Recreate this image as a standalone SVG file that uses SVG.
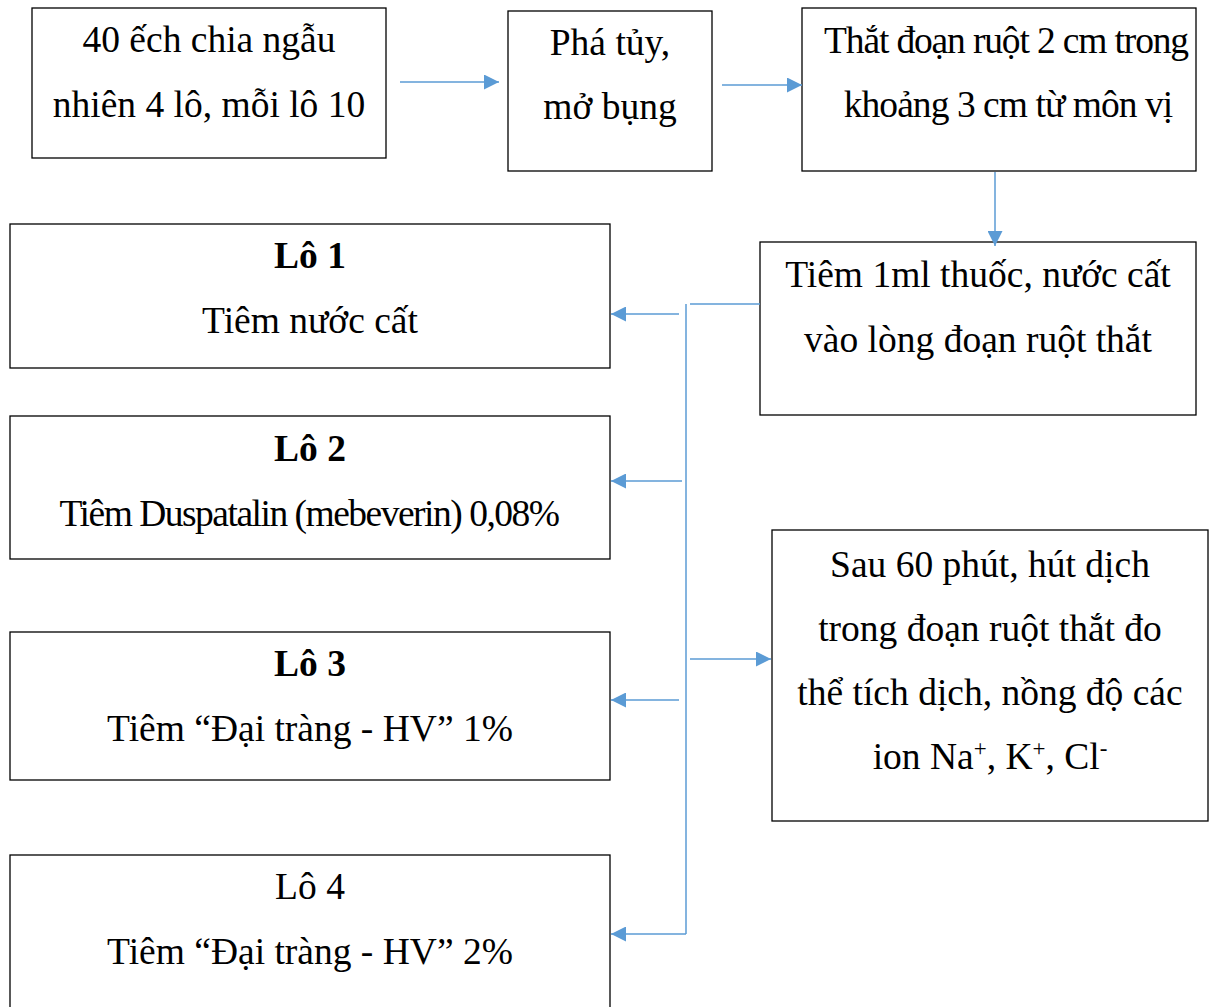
<svg xmlns="http://www.w3.org/2000/svg" width="1211" height="1007" viewBox="0 0 1211 1007">
  <style>
    .box { fill: #ffffff; stroke: #000000; stroke-width: 1.3; }
    .t { font-family: "Liberation Serif", "Times New Roman", serif; font-size: 37.5px; fill: #000000; text-anchor: middle; }
    .b { font-weight: bold; }
    .sup { font-size: 23px; }
    .con { fill: none; stroke: #5b9bd5; stroke-width: 1.5; }
  </style>
  <defs>
    <marker id="arrow" viewBox="0 0 10 10" refX="10" refY="5" markerWidth="15" markerHeight="15" markerUnits="userSpaceOnUse" orient="auto">
      <path d="M0,0 L10,5 L0,10 z" fill="#5b9bd5"/>
    </marker>
  </defs>
  <rect width="1211" height="1007" fill="#ffffff"/>

  <g id="n-start">
    <rect class="box" x="32" y="8" width="354" height="150"/>
    <text class="t" x="209" y="52">40 ếch chia ngẫu</text>
    <text class="t" x="209" y="117">nhiên 4 lô, mỗi lô 10</text>
  </g>

  <g id="n-open">
    <rect class="box" x="508" y="11" width="204" height="160"/>
    <text class="t" x="610" y="55">Phá tủy,</text>
    <text class="t" x="610" y="119">mở bụng</text>
  </g>

  <g id="n-tie">
    <rect class="box" x="802" y="8" width="394" height="163"/>
    <text class="t" x="1006" y="53" letter-spacing="-1.15">Thắt đoạn ruột 2 cm trong</text>
    <text class="t" x="1008" y="117" letter-spacing="-0.95">khoảng 3 cm từ môn vị</text>
  </g>

  <g id="n-inject">
    <rect class="box" x="760" y="242" width="436" height="173"/>
    <text class="t" x="978" y="287">Tiêm 1ml thuốc, nước cất</text>
    <text class="t" x="978" y="352">vào lòng đoạn ruột thắt</text>
  </g>

  <g id="n-lo1">
    <rect class="box" x="10" y="224" width="600" height="144"/>
    <text class="t b" x="310" y="268">Lô 1</text>
    <text class="t" x="310" y="333">Tiêm nước cất</text>
  </g>

  <g id="n-lo2">
    <rect class="box" x="10" y="416" width="600" height="143"/>
    <text class="t b" x="310" y="461">Lô 2</text>
    <text class="t" x="309" y="526" letter-spacing="-1.5">Tiêm Duspatalin (mebeverin) 0,08%</text>
  </g>

  <g id="n-lo3">
    <rect class="box" x="10" y="632" width="600" height="148"/>
    <text class="t b" x="310" y="676">Lô 3</text>
    <text class="t" x="310" y="741">Tiêm “Đại tràng - HV” 1%</text>
  </g>

  <g id="n-lo4">
    <rect class="box" x="10" y="855" width="600" height="170"/>
    <text class="t" x="310" y="899">Lô 4</text>
    <text class="t" x="310" y="964">Tiêm “Đại tràng - HV” 2%</text>
  </g>

  <g id="n-measure">
    <rect class="box" x="772" y="530" width="436" height="291"/>
    <text class="t" x="990" y="577">Sau 60 phút, hút dịch</text>
    <text class="t" x="990" y="641">trong đoạn ruột thắt đo</text>
    <text class="t" x="990" y="705">thể tích dịch, nồng độ các</text>
    <text class="t" x="990" y="769">ion Na<tspan class="sup" dy="-13">+</tspan><tspan dy="13">, K</tspan><tspan class="sup" dy="-13">+</tspan><tspan dy="13">, Cl</tspan><tspan class="sup" dy="-13">-</tspan></text>
  </g>

  <g id="connectors">
    <line class="con" x1="400" y1="82" x2="499" y2="82" marker-end="url(#arrow)"/>
    <line class="con" x1="722" y1="85" x2="802" y2="85" marker-end="url(#arrow)"/>
    <line class="con" x1="995" y1="172" x2="995" y2="246" marker-end="url(#arrow)"/>
    <line class="con" x1="690" y1="304" x2="760" y2="304"/>
    <line class="con" x1="686" y1="304" x2="686" y2="934"/>
    <line class="con" x1="679" y1="314" x2="611" y2="314" marker-end="url(#arrow)"/>
    <line class="con" x1="682" y1="481" x2="611" y2="481" marker-end="url(#arrow)"/>
    <line class="con" x1="679" y1="700" x2="611" y2="700" marker-end="url(#arrow)"/>
    <line class="con" x1="686" y1="934" x2="611" y2="934" marker-end="url(#arrow)"/>
    <line class="con" x1="690" y1="659" x2="771" y2="659" marker-end="url(#arrow)"/>
  </g>
</svg>
